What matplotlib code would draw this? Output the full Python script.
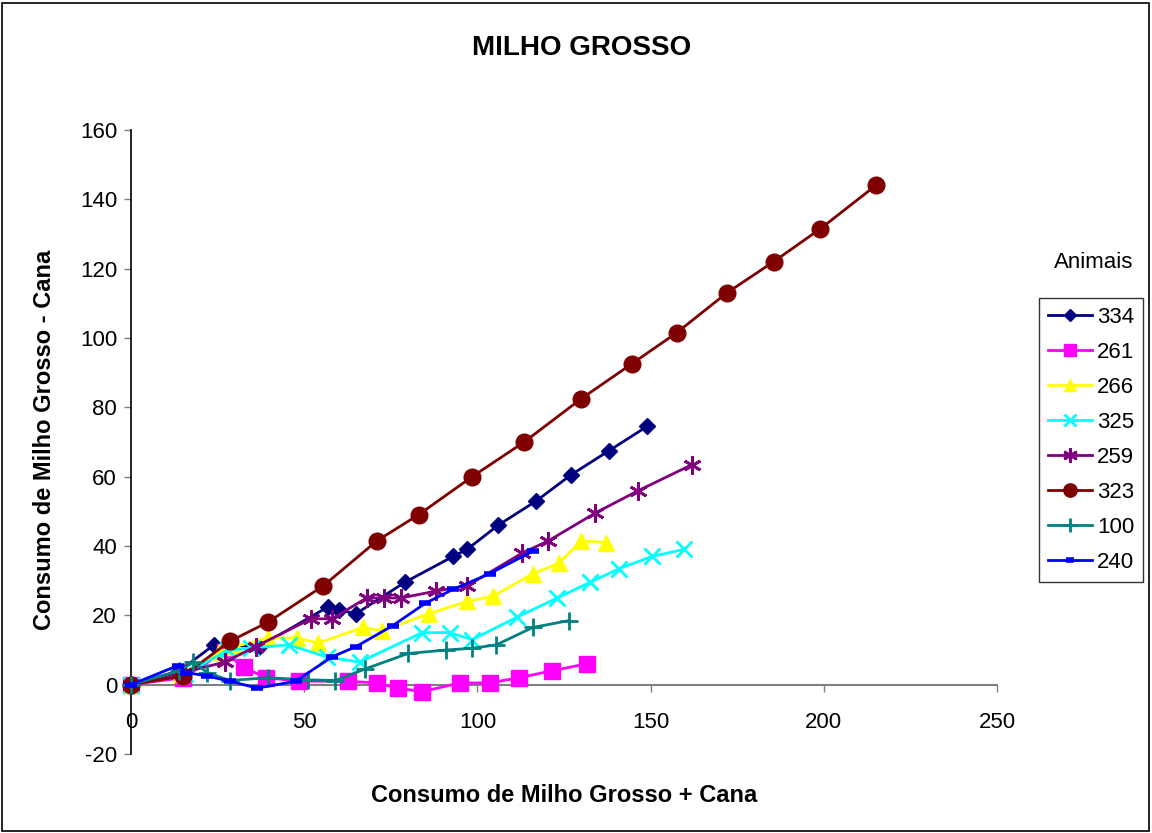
import matplotlib
matplotlib.use("Agg")
import matplotlib.pyplot as plt
from matplotlib.patches import Rectangle

plt.rcParams['font.family'] = ['Liberation Sans', 'DejaVu Sans']
plt.rcParams['axes.unicode_minus'] = False

labels = ["334", "261", "266", "325", "259", "323", "100", "240"]

x334 = [0, 14, 24, 37, 57, 60, 65, 79, 93, 97, 106, 117, 127, 138, 149]
y334 = [0, 4, 11.5, 11, 22.5, 21.5, 20.5, 29.5, 37, 39, 46, 53, 60.5, 67.5, 74.5]

x261 = [0, 15, 27, 32.5, 39, 48.5, 62.5, 71, 77, 84, 95, 103.5, 112, 121.5, 131.5]
y261 = [0, 2, 9.5, 5, 2, 1, 1, 0.5, -1, -2, 0.5, 0.5, 2, 4, 6]

x266 = [0, 14.5, 25.5, 30, 39.5, 48, 54, 67, 72.5, 86, 97, 104.5, 116, 123.5, 130, 137]
y266 = [0, 3, 9.5, 11, 13.5, 13.5, 12, 16.5, 15.5, 20.5, 24, 25.5, 32, 35, 41.5, 41]

x325 = [0, 15.5, 28, 34.5, 45.5, 56.5, 66, 84, 92, 98.5, 111.5, 123, 132.5, 141, 150.5, 159.5]
y325 = [0, 3, 10, 10.5, 11.5, 8, 6.5, 15, 15, 13, 19.5, 25, 29.5, 33.5, 37, 39]

x259 = [0, 15, 27, 36, 52, 58, 68, 73, 78, 88, 97, 113, 120.5, 134, 146.5, 162]
y259 = [0, 3.5, 6.5, 11, 19, 19, 25, 25, 25, 27, 28.5, 38, 41.5, 49.5, 56, 63.5]

x323 = [0, 15, 28.5, 39.5, 55.5, 71, 83, 98.5, 113.5, 130, 144.5, 157.5, 172, 185.5, 199, 215]
y323 = [0, 2.5, 12.5, 18, 28.5, 41.5, 49, 60, 70, 82.5, 92.5, 101.5, 113, 122, 131.5, 144]

x100 = [0, 14, 18, 22, 28.5, 39.5, 51, 59, 67.5, 80, 91, 98.5, 105.5, 116, 126.5]
y100 = [0, 4, 6.5, 3.5, 1.2, 2, 1.4, 1.2, 4.5, 9, 10, 10.5, 11.5, 16.5, 18.5]

x240 = [0, 13.5, 16, 22, 28.5, 36.5, 47.5, 58, 65, 75.5, 85, 93, 103.5, 116]
y240 = [0, 5.5, 3.5, 2.5, 1, -1, 1, 8, 11, 17, 23.5, 27.5, 32, 38.5]

xticks = [0, 50, 100, 150, 200, 250]
yticks = [-20, 0, 20, 40, 60, 80, 100, 120, 140, 160]

series = [(x334, y334), (x261, y261), (x266, y266), (x325, y325),
          (x259, y259), (x323, y323), (x100, y100), (x240, y240)]
colors = ["#000080", "#FF00FF", "#FFFF00", "#00FFFF", "#800080", "#800000", "#008080", "#0000FF"]
markers = ["D", "s", "^", "x", (6, 2, 0), "o", "+", "_"]
msizes = [8, 11, 11, 11, 13, 12, 13, 8]
medges = [1, 1, 1, 2, 2, 1, 2, 4]

fig = plt.figure(figsize=(11.52, 8.33), dpi=100)
fig.patches.append(Rectangle((0.002, 0.002), 0.995, 0.994, transform=fig.transFigure,
                             fill=False, edgecolor='black', linewidth=1.2))
ax = fig.add_axes([131/1152, 1-754/833, (997-131)/1152, (754-130)/833])

handles = []
for i, ((xs, ys), c, m, ms, me) in enumerate(zip(series, colors, markers, msizes, medges)):
    h, = ax.plot(xs, ys, color=c, linewidth=2, marker=m, markersize=ms,
                 markerfacecolor=c, markeredgecolor=c, markeredgewidth=me,
                 label=labels[i], zorder=3 + i, clip_on=False)
    handles.append(h)

ax.set_xlim(0, 250)
ax.set_ylim(-20, 160)
ax.set_xticks(xticks)
ax.set_yticks(yticks)
ax.spines['top'].set_visible(False)
ax.spines['right'].set_visible(False)
ax.spines['bottom'].set_position(('data', 0))
ax.spines['bottom'].set_color('#808080')
ax.spines['bottom'].set_linewidth(1.5)
ax.spines['left'].set_color('black')
ax.spines['left'].set_linewidth(1.2)
ax.tick_params(axis='x', direction='out', length=5, width=1, colors='#808080',
               labelcolor='black', labelsize=16, pad=15)
ax.tick_params(axis='y', direction='out', length=5, width=1, colors='#808080',
               labelcolor='black', labelsize=16, pad=5)

fig.text(582/1152, 1-48/833, "MILHO GROSSO", fontsize=20, fontweight='bold',
         ha='center', va='center')
fig.text(564/1152, 1-795/833, "Consumo de Milho Grosso + Cana", fontsize=17,
         fontweight='bold', ha='center', va='center')
fig.text(45/1152, 1-440/833, "Consumo de Milho Grosso - Cana", fontsize=17,
         fontweight='bold', ha='center', va='center', rotation=90)

fig.text(1094/1152, 1-262/833, "Animais", fontsize=16, ha='center', va='center')
leg = fig.legend(handles=handles, loc='upper left',
                 bbox_to_anchor=(1039/1152, 1-298/833), fontsize=16,
                 frameon=True, fancybox=False, edgecolor='black',
                 handlelength=2.0, handletextpad=0.2, labelspacing=0.63,
                 borderpad=0.4, borderaxespad=0)
leg.get_frame().set_linewidth(1)
for lh in leg.legend_handles:
    lh.set_markersize(lh.get_markersize() * 0.8)

fig.savefig("out.png", dpi=100)
